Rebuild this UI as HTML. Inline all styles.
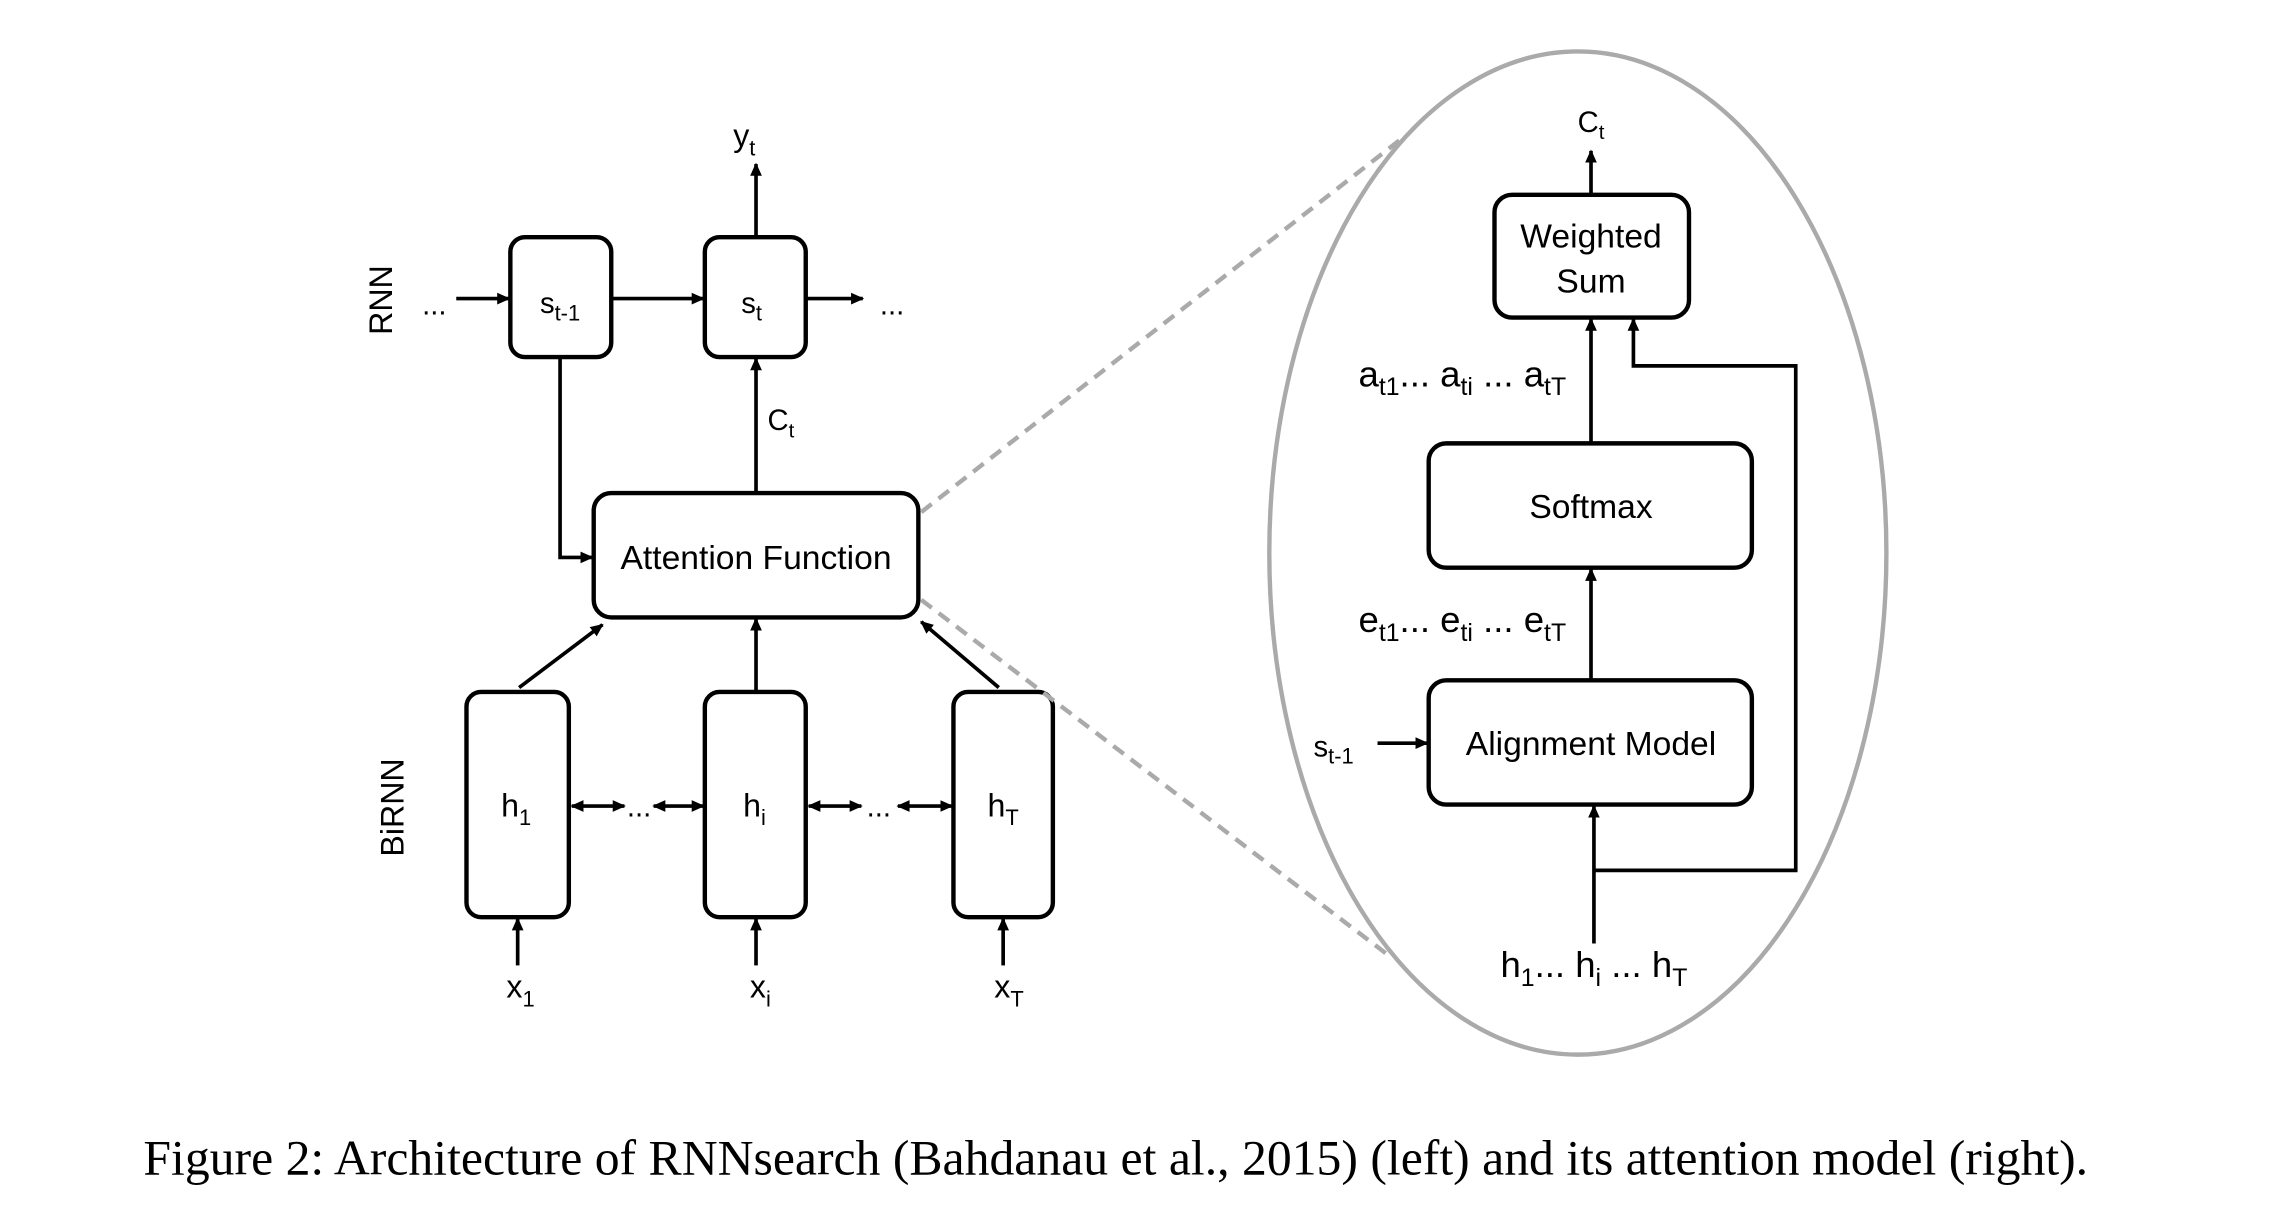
<!DOCTYPE html>
<html><head><meta charset="utf-8"><style>
html,body{margin:0;padding:0;background:#fff;}
svg{display:block;}
text{font-family:"Liberation Sans",sans-serif;fill:#000;}
</style></head><body>
<svg width="2290" height="1226" viewBox="0 0 1566 838" xmlns="http://www.w3.org/2000/svg">
<defs>
<marker id="a" markerWidth="10" markerHeight="10" refX="8" refY="5" orient="auto" markerUnits="userSpaceOnUse"><path d="M0,1 L9,5 L0,9 z" fill="#000"/></marker>
<marker id="b" markerWidth="10" markerHeight="10" refX="1" refY="5" orient="auto" markerUnits="userSpaceOnUse"><path d="M9,1 L0,5 L9,9 z" fill="#000"/></marker>
</defs>
<g fill="none" stroke="#000" stroke-width="3">
<rect x="349" y="162" width="69" height="82" rx="10"/>
<rect x="482" y="162" width="69" height="82" rx="10"/>
<rect x="406" y="337" width="222" height="85" rx="12"/>
<rect x="319" y="473" width="70" height="154" rx="10"/>
<rect x="482" y="473" width="69" height="154" rx="10"/>
<rect x="652" y="473" width="68" height="154" rx="10"/>
<rect x="1022" y="133" width="133" height="84" rx="12"/>
<rect x="977" y="303" width="221" height="85" rx="12"/>
<rect x="977" y="465" width="221" height="85" rx="12"/>
</g>
<g fill="none" stroke="#000" stroke-width="2.5" marker-end="url(#a)">
<line x1="312" y1="204" x2="348" y2="204"/>
<line x1="418" y1="204" x2="481" y2="204"/>
<line x1="551" y1="204" x2="590" y2="204"/>
<line x1="517" y1="162" x2="517" y2="112"/>
<line x1="517" y1="337" x2="517" y2="245"/>
<polyline points="383,244 383,381 405,381"/>
<line x1="355" y1="470" x2="412" y2="427"/>
<line x1="517" y1="472" x2="517" y2="423"/>
<line x1="683" y1="470" x2="630" y2="425"/>
<line x1="354" y1="660" x2="354" y2="628"/>
<line x1="517" y1="660" x2="517" y2="628"/>
<line x1="686" y1="660" x2="686" y2="628"/>
<line x1="1088" y1="133" x2="1088" y2="103"/>
<line x1="1088" y1="303" x2="1088" y2="218"/>
<line x1="1088" y1="465" x2="1088" y2="389"/>
<line x1="1090" y1="645" x2="1090" y2="551"/>
<polyline points="1090,595 1228,595 1228,250 1117,250 1117,218"/>
<line x1="942" y1="508" x2="976" y2="508"/>
</g>
<g fill="none" stroke="#000" stroke-width="2.5" marker-start="url(#b)" marker-end="url(#a)">
<line x1="391" y1="551" x2="427" y2="551"/>
<line x1="447" y1="551" x2="481" y2="551"/>
<line x1="553" y1="551" x2="589" y2="551"/>
<line x1="614" y1="551" x2="651" y2="551"/>
</g>
<ellipse cx="1079" cy="378" rx="211" ry="343" fill="none" stroke="#aaa" stroke-width="3"/>
<g stroke="#aaa" stroke-width="3" stroke-dasharray="9,6">
<line x1="630" y1="350" x2="958" y2="95"/>
<line x1="630" y1="410" x2="952" y2="655"/>
</g>
<g font-size="20" text-anchor="middle">
<text x="297" y="215">...</text>
<text x="610" y="215">...</text>
<text x="437" y="558">...</text>
<text x="601" y="558">...</text>
<text transform="translate(268,205) rotate(-90)" font-size="22">RNN</text>
<text transform="translate(276,552) rotate(-90)" font-size="22">BiRNN</text>
<text x="383" y="214" font-size="20">s<tspan font-size="15" dy="5">t-1</tspan></text>
<text x="514" y="214" font-size="20">s<tspan font-size="15" dy="5">t</tspan></text>
<text x="509" y="100" font-size="22">y<tspan font-size="15" dy="6">t</tspan></text>
<text x="534" y="294" font-size="20">C<tspan font-size="14" dy="5">t</tspan></text>
<text x="517" y="389" font-size="23">Attention Function</text>
<text x="353" y="558" font-size="22">h<tspan font-size="15" dy="6">1</tspan></text>
<text x="516" y="558" font-size="22">h<tspan font-size="15" dy="6">i</tspan></text>
<text x="686" y="558" font-size="22">h<tspan font-size="15" dy="6">T</tspan></text>
<text x="356" y="682" font-size="22">x<tspan font-size="15" dy="6">1</tspan></text>
<text x="520" y="682" font-size="22">x<tspan font-size="15" dy="6">i</tspan></text>
<text x="690" y="682" font-size="22">x<tspan font-size="15" dy="6">T</tspan></text>
<text x="1088" y="90" font-size="20">C<tspan font-size="14" dy="5">t</tspan></text>
<text x="1088" y="169" font-size="23">Weighted</text>
<text x="1088" y="200" font-size="23">Sum</text>
<text x="1088" y="354" font-size="23">Softmax</text>
<text x="1088" y="516" font-size="23">Alignment Model</text>
<text x="1000" y="264" font-size="25">a<tspan font-size="17" dy="6">t1</tspan><tspan dy="-6">... a</tspan><tspan font-size="17" dy="6">ti</tspan><tspan dy="-6"> ... a</tspan><tspan font-size="17" dy="6">tT</tspan></text>
<text x="1000" y="432" font-size="25">e<tspan font-size="17" dy="6">t1</tspan><tspan dy="-6">... e</tspan><tspan font-size="17" dy="6">ti</tspan><tspan dy="-6"> ... e</tspan><tspan font-size="17" dy="6">tT</tspan></text>
<text x="912" y="517" font-size="20">s<tspan font-size="15" dy="5">t-1</tspan></text>
<text x="1090" y="668" font-size="25">h<tspan font-size="17" dy="6">1</tspan><tspan dy="-6">... h</tspan><tspan font-size="17" dy="6">i</tspan><tspan dy="-6"> ... h</tspan><tspan font-size="17" dy="6">T</tspan></text>
</g>
<text x="763" y="803" font-size="34" text-anchor="middle" style="font-family:'Liberation Serif',serif">Figure 2: Architecture of RNNsearch (Bahdanau et al., 2015) (left) and its attention model (right).</text>
</svg>
</body></html>
